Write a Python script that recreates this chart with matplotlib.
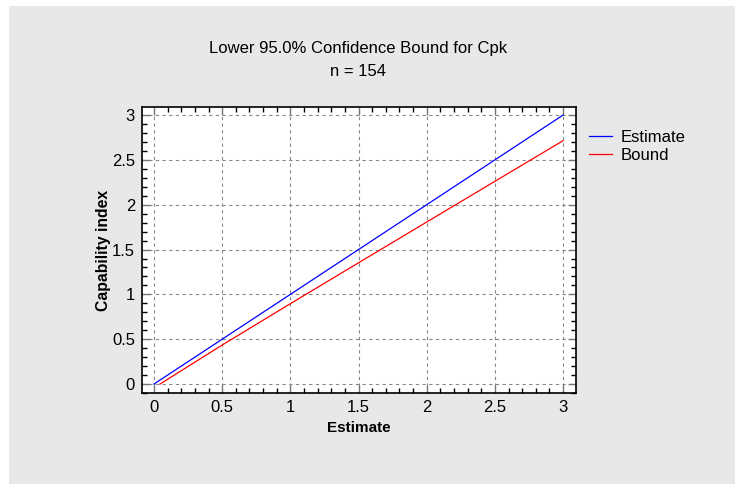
import matplotlib
matplotlib.use('Agg')
import matplotlib.pyplot as plt
from matplotlib.patches import Rectangle
from matplotlib.ticker import MultipleLocator, FuncFormatter

plt.rcParams['font.family'] = ['Liberation Sans', 'DejaVu Sans']

# values
est_x = [0.0, 0.5, 1.0, 1.5, 2.0, 2.5, 3.0]
est_y = [0.0, 0.5, 1.0, 1.5, 2.0, 2.5, 3.0]
bound_x = [0.044, 0.5, 1.0, 1.5, 2.0, 2.5, 3.0]
bound_y = [0.0, 0.435, 0.896, 1.352, 1.807, 2.261, 2.714]

fig = plt.figure(figsize=(7.35, 4.84), dpi=100)
fig.patch.set_facecolor('white')
bg = Rectangle((9 / 735, 0), 1 - 9 / 735, 478 / 484,
               transform=fig.transFigure, facecolor='#e8e8e8',
               edgecolor='none', zorder=-10)
fig.add_artist(bg)

ax = fig.add_axes([142 / 735, 1 - 393 / 484, 434 / 735, 286 / 484])
ax.set_zorder(1)
ax.set_facecolor('white')

ax.plot(est_x, est_y, color='#0000ff', lw=0.9, label='Estimate')
ax.plot(bound_x, bound_y, color='#ff0000', lw=0.9, label='Bound')

ax.set_xlim(-0.088, 3.095)
ax.set_ylim(-0.1, 3.09)
fmt = FuncFormatter(lambda v, p: '%g' % round(v, 2))
ax.xaxis.set_major_locator(MultipleLocator(0.5))
ax.xaxis.set_minor_locator(MultipleLocator(0.1))
ax.yaxis.set_major_locator(MultipleLocator(0.5))
ax.yaxis.set_minor_locator(MultipleLocator(0.1))
ax.xaxis.set_major_formatter(fmt)
ax.yaxis.set_major_formatter(fmt)

ax.tick_params(which='both', direction='in', top=True, right=True,
               labelsize=12, colors='black', pad=5)
ax.tick_params(which='major', length=6, width=1, color='#777777')
ax.tick_params(which='minor', length=3.5, width=1, color='black')
for s in ax.spines.values():
    s.set_linewidth(1.2)

ax.grid(True, which='major', color='#888888', linestyle=(0, (3, 3)), lw=0.8)

ax.set_xlabel('Estimate', fontsize=11, fontweight='bold', labelpad=4)
ax.set_ylabel('Capability index', fontsize=11.3, fontweight='bold', labelpad=0.5)

fig.text(358 / 735, 1 - 48 / 484, 'Lower 95.0% Confidence Bound for Cpk',
         ha='center', va='center', fontsize=12)
fig.text(358 / 735, 1 - 72 / 484, 'n = 154', ha='center', va='center',
         fontsize=12)

fig.legend(loc='upper left', bbox_to_anchor=(589 / 735, 1 - 130 / 484),
           frameon=False, fontsize=12, handlelength=1.4, handletextpad=0.5,
           labelspacing=0.2, borderaxespad=0, borderpad=0)

fig.savefig('out.png', dpi=100)
